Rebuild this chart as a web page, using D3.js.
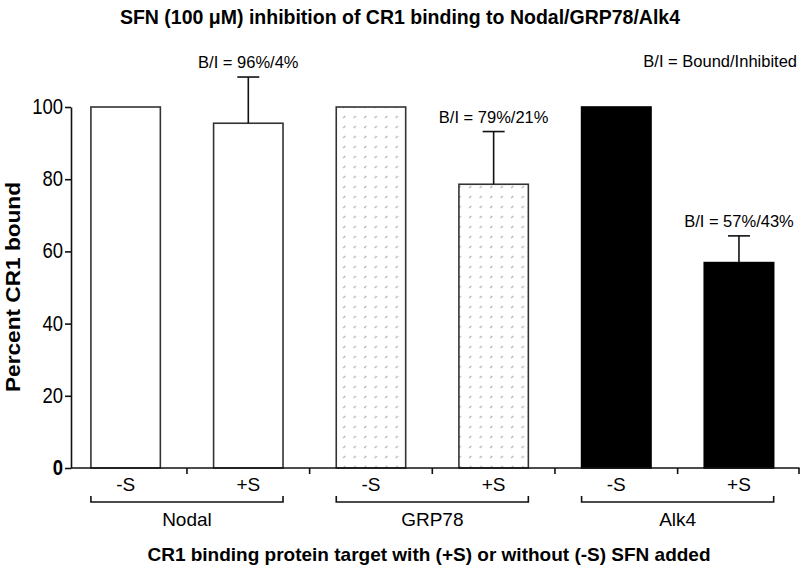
<!DOCTYPE html>
<html>
<head>
<meta charset="utf-8">
<script src="https://cdn.jsdelivr.net/npm/d3@7"></script>
<style>
  body { margin: 0; background: #fff; }
  svg { font-family: "Liberation Sans", Arial, sans-serif; }
</style>
</head>
<body>
<svg id="chart" width="800" height="566"></svg>
<script>
// dados
const groups = ["Nodal", "GRP78", "Alk4"];
const conditions = ["-S", "+S", "-S", "+S", "-S", "+S"];
const barGroup = ["Nodal", "Nodal", "GRP78", "GRP78", "Alk4", "Alk4"];
const values = [100, 95.5, 100, 78.6, 100, 56.9];
const errors = [0, 12.8, 0, 14.6, 0, 7.4];
const ratioLabels = ["", "B/I = 96%/4%", "", "B/I = 79%/21%", "", "B/I = 57%/43%"];
const yTicks = [0, 20, 40, 60, 80, 100];

const svg = d3.select("#chart");

const x = d3.scaleBand()
  .domain(d3.range(values.length))
  .range([64.3, 800.3])
  .paddingInner(0.434)
  .paddingOuter(0.217);

const y = d3.scaleLinear().domain([0, 100]).range([468, 107]);

// padrão pontilhado do GRP78
const defs = svg.append("defs");
const pat = defs.append("pattern")
  .attr("id", "dots")
  .attr("patternUnits", "userSpaceOnUse")
  .attr("width", 10.5)
  .attr("height", 10)
  .attr("x", x(2) + 4)
  .attr("y", 2);
pat.append("rect").attr("width", 10.5).attr("height", 10).attr("fill", "#fff");
pat.append("line")
  .attr("x1", 3).attr("y1", 6).attr("x2", 5).attr("y2", 4)
  .attr("stroke", "#b4b4b4").attr("stroke-width", 1.2);

const fills = { Nodal: "#fff", GRP78: "url(#dots)", Alk4: "#000" };

// barras
svg.selectAll(".bar")
  .data(values)
  .enter()
  .append("rect")
  .attr("class", "bar")
  .attr("x", (d, i) => x(i))
  .attr("y", (d) => y(d))
  .attr("width", x.bandwidth())
  .attr("height", (d) => y(0) - y(d))
  .attr("fill", (d, i) => fills[barGroup[i]])
  .attr("stroke", (d, i) => barGroup[i] === "Alk4" ? "#000" : "#333")
  .attr("stroke-width", 1.6);

// barras de erro (só para cima)
const err = svg.selectAll(".err")
  .data(values.map((v, i) => ({ v, e: errors[i], i })).filter((d) => d.e > 0))
  .enter()
  .append("g")
  .attr("class", "err")
  .attr("stroke", "#111")
  .attr("stroke-width", 1.6);

err.append("line")
  .attr("x1", (d) => x(d.i) + x.bandwidth() / 2)
  .attr("x2", (d) => x(d.i) + x.bandwidth() / 2)
  .attr("y1", (d) => y(d.v))
  .attr("y2", (d) => y(d.v + d.e));

err.append("line")
  .attr("x1", (d) => x(d.i) + x.bandwidth() / 2 - 11)
  .attr("x2", (d) => x(d.i) + x.bandwidth() / 2 + 11)
  .attr("y1", (d) => y(d.v + d.e))
  .attr("y2", (d) => y(d.v + d.e));

// textos B/I acima das barras
svg.selectAll(".ratio")
  .data(values.map((v, i) => ({ v, e: errors[i], i })).filter((d) => ratioLabels[d.i]))
  .enter()
  .append("text")
  .attr("class", "ratio")
  .attr("x", (d) => x(d.i) + x.bandwidth() / 2)
  .attr("y", (d) => y(d.v + d.e) - 9)
  .attr("text-anchor", "middle")
  .attr("font-size", 16.5)
  .text((d) => ratioLabels[d.i]);

svg.append("text")
  .attr("x", 797)
  .attr("y", 67)
  .attr("text-anchor", "end")
  .attr("font-size", 16.5)
  .text("B/I = Bound/Inhibited");

// eixo y
const yAxis = svg.append("g")
  .attr("transform", "translate(71,0)")
  .call(d3.axisLeft(y).tickValues(yTicks).tickSize(6).tickSizeOuter(0));
yAxis.select(".domain").attr("stroke", "#111").attr("stroke-width", 1.6);
yAxis.selectAll(".tick line").attr("stroke", "#111").attr("stroke-width", 1.6);
// os números do eixo são um pouco esticados na vertical no original
yAxis.selectAll(".tick text")
  .attr("font-size", 18.5)
  .attr("font-family", "Liberation Sans, Arial, sans-serif")
  .attr("fill", "#000")
  .attr("x", 0)
  .attr("dy", null)
  .attr("y", 0)
  .attr("transform", "translate(-8,6.5) scale(1,1.2)")
  .attr("font-weight", (d) => d === 0 ? "bold" : "normal");

// eixo x (linha + marcas entre as barras)
const step = x.step();
const gap = step * x.paddingInner();
svg.append("line")
  .attr("x1", 71).attr("x2", 799.5)
  .attr("y1", y(0)).attr("y2", y(0))
  .attr("stroke", "#111").attr("stroke-width", 1.6);

svg.selectAll(".xtick")
  .data(values)
  .enter()
  .append("line")
  .attr("class", "xtick")
  .attr("x1", (d, i) => Math.min(x(i) + x.bandwidth() + gap / 2, 799))
  .attr("x2", (d, i) => Math.min(x(i) + x.bandwidth() + gap / 2, 799))
  .attr("y1", y(0))
  .attr("y2", y(0) + 6)
  .attr("stroke", "#111").attr("stroke-width", 1.6);

// rótulos -S / +S
svg.selectAll(".cond")
  .data(conditions)
  .enter()
  .append("text")
  .attr("class", "cond")
  .attr("x", (d, i) => x(i) + x.bandwidth() / 2)
  .attr("y", 491)
  .attr("text-anchor", "middle")
  .attr("font-size", 19)
  .text((d) => d);

// colchetes dos grupos
const bracket = svg.selectAll(".bracket")
  .data(groups)
  .enter()
  .append("g")
  .attr("class", "bracket");

bracket.append("path")
  .attr("d", (g) => {
    const i0 = barGroup.indexOf(g);
    const i1 = barGroup.lastIndexOf(g);
    const a = x(i0), b = x(i1) + x.bandwidth();
    return `M${a},496V502H${b}V496`;
  })
  .attr("fill", "none")
  .attr("stroke", "#111")
  .attr("stroke-width", 1.6);

bracket.append("text")
  .attr("x", (g) => {
    const i0 = barGroup.indexOf(g);
    const i1 = barGroup.lastIndexOf(g);
    return (x(i0) + x(i1) + x.bandwidth()) / 2;
  })
  .attr("y", 526)
  .attr("text-anchor", "middle")
  .attr("font-size", 19)
  .text((g) => g);

// títulos
svg.append("text")
  .attr("x", 400)
  .attr("y", 24)
  .attr("text-anchor", "middle")
  .attr("font-size", 19.5)
  .attr("font-weight", "bold")
  .text("SFN (100 μM) inhibition of CR1 binding to Nodal/GRP78/Alk4");

svg.append("text")
  .attr("x", 429)
  .attr("y", 561)
  .attr("text-anchor", "middle")
  .attr("font-size", 19)
  .attr("font-weight", "bold")
  .text("CR1 binding protein target with (+S) or without (-S) SFN added");

// rótulo do eixo y, mais comprido no original
svg.append("text")
  .attr("transform", "translate(20,287) rotate(-90)")
  .attr("x", -105)
  .attr("text-anchor", "start")
  .attr("font-size", 19.5)
  .attr("font-weight", "bold")
  .attr("textLength", 210)
  .attr("lengthAdjust", "spacingAndGlyphs")
  .text("Percent CR1 bound");
</script>
</body>
</html>
